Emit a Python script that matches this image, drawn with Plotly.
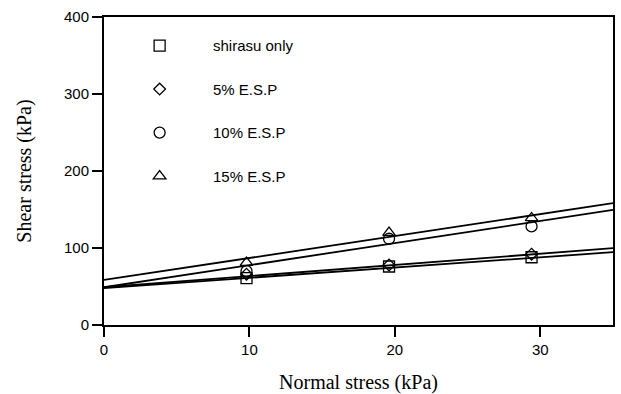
import plotly.graph_objects as go

# Data
series_names = ["shirasu only", "5% E.S.P", "10% E.S.P", "15% E.S.P"]
normal_stress = [9.8, 19.6, 29.4]
shirasu_only = [61, 76, 88]
esp_5 = [66, 78, 92]
esp_10 = [70, 112, 128]
esp_15 = [81, 120, 139]
# fitted lines: intercept (kPa), slope
fit_intercepts = [48, 49, 49, 58.5]
fit_slopes = [1.33, 1.45, 2.87, 2.85]
x_fit_range = [0, 35]

symbols = ["square-open", "diamond-open", "circle-open", "triangle-up-open"]
sizes = [11, 9, 11, 11]
values = [shirasu_only, esp_5, esp_10, esp_15]

tick_font = dict(family="Liberation Sans, Arial", size=15, color="black")
title_font = dict(family="Liberation Serif, Times New Roman", size=20, color="black")

fig = go.Figure()
for i, name in enumerate(series_names):
    fig.add_trace(go.Scatter(
        x=normal_stress, y=values[i], mode="markers", name="        " + name,
        legendgroup=name,
        marker=dict(symbol=symbols[i], size=sizes[i], color="black",
                    line=dict(color="black", width=1.3)),
    ))
for i, name in enumerate(series_names):
    xs = x_fit_range
    ys = [fit_intercepts[i] + fit_slopes[i] * x for x in xs]
    fig.add_trace(go.Scatter(x=xs, y=ys, mode="lines", showlegend=False,
                             line=dict(color="black", width=1.8)))

fig.update_layout(
    width=621, height=394,
    margin=dict(l=104, r=8, t=17, b=69),
    plot_bgcolor="white", paper_bgcolor="white",
    showlegend=True,
    legend=dict(x=0.07, y=0.96, xanchor="left", yanchor="top",
                bgcolor="rgba(0,0,0,0)", tracegroupgap=21,
                font=dict(family="Liberation Sans, Arial", size=15, color="black")),
    xaxis=dict(range=[0, 35], tickvals=[0, 10, 20, 30], ticks="outside",
               ticklen=10, tickwidth=1.5, tickcolor="black",
               showline=True, linecolor="black", linewidth=2, mirror=True,
               showgrid=False, zeroline=False, automargin=False,
               tickfont=tick_font,
               title=dict(text="Normal stress (kPa)", standoff=18, font=title_font)),
    yaxis=dict(range=[0, 400], tickvals=[0, 100, 200, 300, 400], ticks="outside",
               ticklen=10, tickwidth=1.5, tickcolor="black",
               showline=True, linecolor="black", linewidth=2, mirror=True,
               showgrid=False, zeroline=False, automargin=False,
               tickfont=tick_font,
               title=dict(text="Shear stress (kPa)", standoff=27, font=title_font)),
)

fig.write_html("out.html")
